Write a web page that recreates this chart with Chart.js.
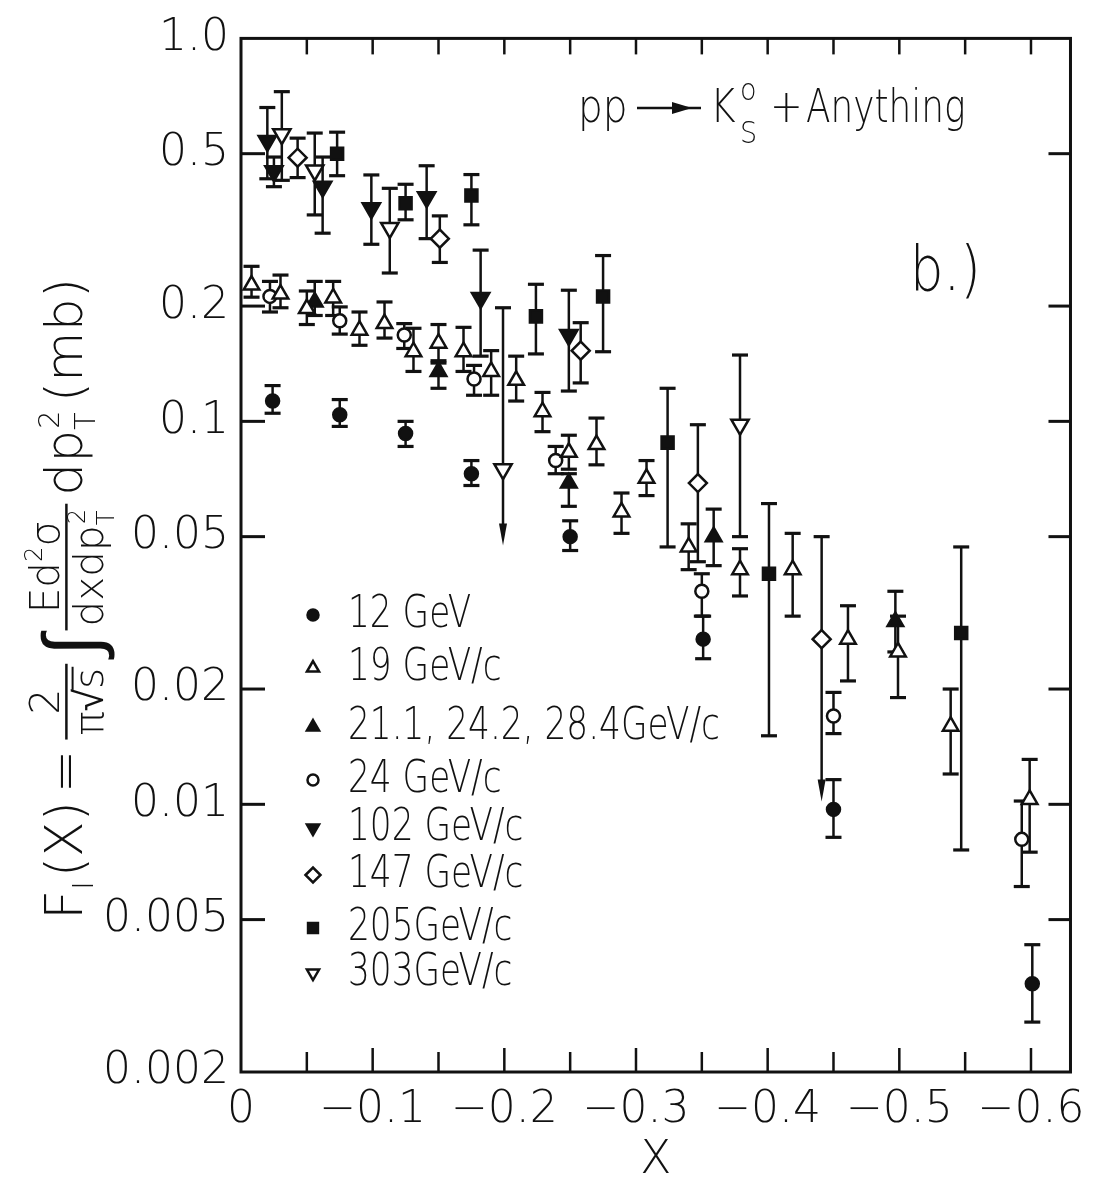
<!DOCTYPE html>
<html>
<head>
<meta charset="utf-8">
<title>pp → K0s + Anything</title>
<script src="https://cdn.jsdelivr.net/npm/chart.js@4.4.1/dist/chart.umd.min.js"></script>
<style>
html,body{margin:0;padding:0;background:#ffffff;overflow:hidden;}
#wrap{position:relative;width:1097px;height:1189px;}
canvas{display:block;}
</style>
</head>
<body>
<div id="wrap"><canvas id="chart" width="1097" height="1189"></canvas></div>
<script>
// ---------------- data ----------------
const seriesLabels = ['12 GeV', '19 GeV/c', '21.1, 24.2, 28.4GeV/c', '24 GeV/c', '102 GeV/c', '147 GeV/c', '205GeV/c', '303GeV/c'];

const yTickValues = [0.002, 0.005, 0.01, 0.02, 0.05, 0.1, 0.2, 0.5, 1.0];
const yTickLabels = ['0.002', '0.005', '0.01', '0.02', '0.05', '0.1', '0.2', '0.5', '1.0'];
const xTickValues = [0, -0.1, -0.2, -0.3, -0.4, -0.5, -0.6];
const xTickLabels = ['0', '\u22120.1', '\u22120.2', '\u22120.3', '\u22120.4', '\u22120.5', '\u22120.6'];
const xMinorTickValues = [-0.05, -0.15, -0.25, -0.35, -0.45, -0.55];

// 12 GeV
const x12  = [-0.024, -0.075, -0.125, -0.175, -0.250, -0.351, -0.450, -0.601];
const y12  = [0.113, 0.104, 0.093, 0.073, 0.050, 0.027, 0.0097, 0.0034];
const hi12 = [0.124, 0.114, 0.100, 0.079, 0.055, 0.031, 0.0116, 0.0043];
const lo12 = [0.105, 0.097, 0.086, 0.068, 0.046, 0.024, 0.0082, 0.0027];

// 19 GeV/c
const x19  = [-0.008, -0.030, -0.050, -0.070, -0.090, -0.109, -0.131, -0.150, -0.169, -0.190, -0.209, -0.229, -0.249, -0.270, -0.289, -0.308, -0.340, -0.379, -0.419, -0.461, -0.499, -0.539, -0.599];
const y19  = [0.227, 0.215, 0.197, 0.210, 0.173, 0.180, 0.152, 0.160, 0.152, 0.135, 0.128, 0.106, 0.083, 0.087, 0.058, 0.071, 0.047, 0.041, 0.041, 0.027, 0.025, 0.016, 0.0103];
const hi19 = [0.254, 0.241, 0.219, 0.232, 0.193, 0.205, 0.175, 0.179, 0.176, 0.153, 0.148, 0.119, 0.092, 0.102, 0.065, 0.079, 0.054, 0.0465, 0.051, 0.033, 0.031, 0.020, 0.0131];
const lo19 = [0.211, 0.198, 0.179, 0.189, 0.158, 0.165, 0.135, 0.142, 0.135, 0.117, 0.113, 0.094, 0.075, 0.077, 0.051, 0.064, 0.041, 0.035, 0.031, 0.021, 0.019, 0.012, 0.0075];

// 21.1, 24.2, 28.4 GeV/c
const x21  = [-0.056, -0.150, -0.249, -0.359, -0.497];
const y21  = [0.205, 0.135, 0.069, 0.050, 0.030];
const hi21 = [0.232, 0.144, 0.073, 0.059, 0.036];
const lo21 = [0.189, 0.122, 0.060, 0.042, 0.025];

// 24 GeV/c
const x24  = [-0.022, -0.075, -0.124, -0.177, -0.239, -0.350, -0.450, -0.593];
const y24  = [0.212, 0.183, 0.168, 0.129, 0.079, 0.036, 0.017, 0.0081];
const hi24 = [0.232, 0.199, 0.180, 0.140, 0.086, 0.040, 0.0196, 0.0102];
const lo24 = [0.193, 0.169, 0.155, 0.117, 0.073, 0.031, 0.0153, 0.0061];

// 102 GeV/c
const x102  = [-0.020, -0.025, -0.062, -0.099, -0.141, -0.182, -0.249];
const y102  = [0.54, 0.45, 0.41, 0.36, 0.385, 0.21, 0.168];
const hi102 = [0.66, 0.49, 0.49, 0.44, 0.465, 0.28, 0.22];
const lo102 = [0.43, 0.41, 0.31, 0.29, 0.30, 0.148, 0.12];

// 147 GeV/c
const x147  = [-0.043, -0.151, -0.258, -0.347, -0.441];
const y147  = [0.488, 0.300, 0.153, 0.069, 0.027];
const hi147 = [0.549, 0.344, 0.181, 0.098, 0.050];
const lo147 = [0.433, 0.260, 0.126, 0.043, 0.0103];
const lim147 = [0, 0, 0, 0, 1];   // 1 = upper limit (arrow)

// 205 GeV/c
const x205  = [-0.073, -0.125, -0.175, -0.224, -0.275, -0.324, -0.401, -0.547];
const y205  = [0.50, 0.371, 0.389, 0.188, 0.212, 0.088, 0.040, 0.028];
const hi205 = [0.569, 0.416, 0.441, 0.228, 0.271, 0.122, 0.061, 0.047];
const lo205 = [0.438, 0.336, 0.326, 0.150, 0.152, 0.047, 0.0151, 0.0076];

// 303 GeV/c
const x303  = [-0.031, -0.056, -0.113, -0.199, -0.379];
const y303  = [0.562, 0.452, 0.320, 0.075, 0.098];
const hi303 = [0.726, 0.566, 0.406, 0.198, 0.149];
const lo303 = [0.426, 0.346, 0.244, 0.048, 0.050];
const lim303 = [0, 0, 0, 1, 0];

// ---------------- styling ----------------
const FAM = '"DejaVu Sans", "Liberation Sans", sans-serif';
const WT = '200';
const INK = '#111111';

const series = [
  {x: x12,  y: y12,  hi: hi12,  lo: lo12,  lim: null},
  {x: x19,  y: y19,  hi: hi19,  lo: lo19,  lim: null},
  {x: x21,  y: y21,  hi: hi21,  lo: lo21,  lim: null},
  {x: x24,  y: y24,  hi: hi24,  lo: lo24,  lim: null},
  {x: x102, y: y102, hi: hi102, lo: lo102, lim: null},
  {x: x147, y: y147, hi: hi147, lo: lo147, lim: lim147},
  {x: x205, y: y205, hi: hi205, lo: lo205, lim: null},
  {x: x303, y: y303, hi: hi303, lo: lo303, lim: lim303}
];
const seriesStyles = [
  {pointStyle: 'circle',   rotation: 0,   radius: 6.5, filled: true,  legendRadius: 5.5},
  {pointStyle: 'triangle', rotation: 0,   radius: 9,   filled: false, legendRadius: 7},
  {pointStyle: 'triangle', rotation: 0,   radius: 9,   filled: true,  legendRadius: 7},
  {pointStyle: 'circle',   rotation: 0,   radius: 6.5, filled: false, legendRadius: 5.5},
  {pointStyle: 'triangle', rotation: 180, radius: 10,  filled: true,  legendRadius: 7},
  {pointStyle: 'rectRot',  rotation: 0,   radius: 9,   filled: false, legendRadius: 7.5},
  {pointStyle: 'rect',     rotation: 0,   radius: 8.5, filled: true,  legendRadius: 7},
  {pointStyle: 'triangle', rotation: 180, radius: 10,  filled: false, legendRadius: 7}
];

const datasets = series.map((s, k) => {
  const st = seriesStyles[k];
  return {
    label: seriesLabels[k],
    data: s.x.map((xv, i) => ({x: xv, y: s.y[i]})),
    showLine: false,
    pointStyle: st.pointStyle,
    rotation: st.rotation,
    pointRadius: st.radius,
    pointHoverRadius: st.radius,
    pointBorderWidth: 2.5,
    borderColor: INK,
    backgroundColor: st.filled ? INK : '#ffffff',
    pointBackgroundColor: st.filled ? INK : '#ffffff',
    pointBorderColor: INK,
    clip: false
  };
});

// ---------------- plugins ----------------
const errorBars = {
  id: 'errorBars',
  beforeDatasetsDraw(chart) {
    const ctx = chart.ctx, xs = chart.scales.x, ys = chart.scales.y;
    ctx.save();
    ctx.strokeStyle = INK; ctx.fillStyle = INK;
    series.forEach(s => {
      s.x.forEach((xv, i) => {
        const px = xs.getPixelForValue(xv);
        const pHi = ys.getPixelForValue(s.hi[i]);
        const pLo = ys.getPixelForValue(s.lo[i]);
        const isLim = s.lim && s.lim[i];
        ctx.lineWidth = 2.5;
        ctx.beginPath(); ctx.moveTo(px, pHi); ctx.lineTo(px, isLim ? pLo - 10 : pLo); ctx.stroke();
        ctx.lineWidth = 3.2;
        ctx.beginPath(); ctx.moveTo(px - 8, pHi); ctx.lineTo(px + 8, pHi); ctx.stroke();
        if (isLim) {
          ctx.beginPath();
          ctx.moveTo(px, pLo + 2);
          ctx.lineTo(px - 4, pLo - 20);
          ctx.lineTo(px + 4, pLo - 20);
          ctx.closePath(); ctx.fill();
        } else {
          ctx.beginPath(); ctx.moveTo(px - 8, pLo); ctx.lineTo(px + 8, pLo); ctx.stroke();
        }
      });
    });
    ctx.restore();
  }
};

function fillTextScaled(ctx, text, x, y, sx) {
  ctx.save();
  ctx.translate(x, y);
  ctx.scale(sx, 1);
  ctx.fillText(text, 0, 0);
  ctx.restore();
}

function drawMarker(ctx, st, r, x, y) {
  ctx.save();
  ctx.fillStyle = st.filled ? INK : '#ffffff';
  ctx.strokeStyle = INK;
  ctx.lineWidth = 2.5;
  const opts = {pointStyle: st.pointStyle, rotation: st.rotation, radius: r, borderWidth: 2.5};
  if (Chart.helpers && Chart.helpers.drawPoint) {
    Chart.helpers.drawPoint(ctx, opts, x, y);
  }
  ctx.restore();
}

const frameAndText = {
  id: 'frameAndText',
  afterDraw(chart) {
    const ctx = chart.ctx, xs = chart.scales.x, ys = chart.scales.y;
    const a = chart.chartArea;
    ctx.save();
    ctx.strokeStyle = INK; ctx.fillStyle = INK;
    // frame
    ctx.lineWidth = 3;
    ctx.strokeRect(a.left, a.top, a.right - a.left, a.bottom - a.top);
    // y ticks (inward) on left and right
    ctx.lineWidth = 3;
    yTickValues.forEach(v => {
      const py = ys.getPixelForValue(v);
      if (py <= a.top + 1 || py >= a.bottom - 1) return;
      ctx.beginPath(); ctx.moveTo(a.left, py); ctx.lineTo(a.left + 24, py); ctx.stroke();
      ctx.beginPath(); ctx.moveTo(a.right, py); ctx.lineTo(a.right - 22, py); ctx.stroke();
    });
    // x ticks (inward) on bottom and top
    ctx.lineWidth = 2.5;
    const allX = xTickValues.concat(xMinorTickValues);
    allX.forEach(v => {
      const px = xs.getPixelForValue(v);
      if (px <= a.left + 1 || px >= a.right - 1) return;
      const major = xTickValues.indexOf(v) >= 0;
      ctx.beginPath(); ctx.moveTo(px, a.bottom); ctx.lineTo(px, a.bottom - (major ? 24 : 20)); ctx.stroke();
      ctx.beginPath(); ctx.moveTo(px, a.top); ctx.lineTo(px, a.top + 16); ctx.stroke();
    });

    // reaction label
    ctx.textBaseline = 'alphabetic';
    ctx.textAlign = 'left';
    ctx.font = `${WT} 46px ${FAM}`;
    fillTextScaled(ctx, 'pp', 578, 122, 0.85);
    ctx.lineWidth = 2.5;
    ctx.beginPath(); ctx.moveTo(637, 108); ctx.lineTo(701, 108); ctx.stroke();
    ctx.beginPath(); ctx.moveTo(692, 108); ctx.lineTo(672, 102); ctx.lineTo(672, 114); ctx.closePath(); ctx.fill();
    fillTextScaled(ctx, 'K', 710, 122, 0.85);
    ctx.font = `${WT} 30px ${FAM}`;
    fillTextScaled(ctx, 'o', 740, 100, 0.9);
    fillTextScaled(ctx, 'S', 740, 143, 0.9);
    ctx.font = `${WT} 46px ${FAM}`;
    fillTextScaled(ctx, '+', 770, 122, 0.85);
    fillTextScaled(ctx, 'Anything', 806, 122, 0.78);
    ctx.font = `${WT} 62px ${FAM}`;
    fillTextScaled(ctx, 'b.)', 910, 290, 0.85);

    // legend
    const rows = [615, 668, 727, 780, 828, 875, 928, 973];
    seriesLabels.forEach((lab, k) => {
      const st = seriesStyles[k];
      drawMarker(ctx, st, st.legendRadius, 313, rows[k]);
      ctx.fillStyle = INK;
      ctx.font = `${WT} 44px ${FAM}`;
      ctx.textBaseline = 'middle';
      fillTextScaled(ctx, lab, 348, rows[k] + 1, 0.78);
    });

    // y axis title (rotated)
    drawYTitle(ctx);
    ctx.restore();
  }
};

function drawYTitle(ctx) {
  const S = 52;
  const font = s => `${WT} ${s}px ${FAM}`;
  const meas = (t, s) => { ctx.font = font(s); return ctx.measureText(t).width; };
  const ops = [];
  let d = 0;
  const put = (t, s, dy) => { ops.push({k: 't', t, s, x: d, y: dy}); d += meas(t, s); };
  const at = (t, s, x, dy) => ops.push({k: 't', t, s, x, y: dy});
  const line = (x1, y1, x2, y2, w) => ops.push({k: 'l', x1, y1, x2, y2, w});
  const ax = -S * 0.3;        // math axis
  const fs = S * 0.78;        // fraction font
  const ss = S * 0.55;        // script font

  put('F', S, 0);
  put('I', ss, S * 0.22);
  d += 4;
  put('(X)', S, 0);
  d += 8;
  put('=', S, 0);
  d += 10;
  // fraction 2 / (pi sqrt s)
  {
    const wn = meas('2', fs), wd = meas('\u03c0\u221as', fs);
    const bw = Math.max(wn, wd) + 8;
    at('2', fs, d + (bw - wn) / 2, ax - 7);
    const db = ax + 7 + fs * 0.72;
    at('\u03c0\u221as', fs, d + (bw - wd) / 2, db);
    const wsx = meas('s', fs);
    const xe = d + (bw - wd) / 2 + wd;
    line(xe - wsx - 1, db - fs * 0.74, xe + 1, db - fs * 0.74, 2);
    line(d, ax, d + bw, ax, 2.5);
    d += bw + 8;
  }
  // integral
  put('\u222b', S * 1.5, S * 0.3);
  d += 4;
  // fraction E d2 sigma / dx dpT2
  {
    const nW = meas('Ed', fs) + meas('2', fs * 0.6) + meas('\u03c3', fs);
    const dW = meas('dxdp', fs) + meas('2', fs * 0.6) + 2;
    const bw = Math.max(nW, dW) + 8;
    let x0 = d + (bw - nW) / 2;
    const nb = ax - 7;
    at('Ed', fs, x0, nb); x0 += meas('Ed', fs);
    at('2', fs * 0.6, x0, nb - fs * 0.42); x0 += meas('2', fs * 0.6);
    at('\u03c3', fs, x0, nb);
    let x1 = d + (bw - dW) / 2;
    const db = ax + 7 + fs * 0.74;
    at('dxdp', fs, x1, db); x1 += meas('dxdp', fs);
    at('T', fs * 0.6, x1, db + fs * 0.25);
    at('2', fs * 0.6, x1 + 1, db - fs * 0.45);
    line(d, ax, d + bw, ax, 2.5);
    d += bw + 8;
  }
  put('dp', S, 0);
  at('T', ss, d, S * 0.25);
  at('2', ss, d + 1, -S * 0.45);
  d += meas('T', ss) + 10;
  put('(mb)', S, 0);

  const L = d;
  ctx.save();
  ctx.translate(82, 278 + L);
  ctx.rotate(-Math.PI / 2);
  ctx.fillStyle = INK; ctx.strokeStyle = INK;
  ctx.textBaseline = 'alphabetic'; ctx.textAlign = 'left';
  ops.forEach(o => {
    if (o.k === 't') { ctx.font = font(o.s); ctx.fillText(o.t, o.x, o.y); }
    else { ctx.lineWidth = o.w; ctx.beginPath(); ctx.moveTo(o.x1, o.y1); ctx.lineTo(o.x2, o.y2); ctx.stroke(); }
  });
  ctx.restore();
}

// ---------------- chart ----------------
new Chart(document.getElementById('chart'), {
  type: 'scatter',
  data: {datasets},
  options: {
    responsive: false,
    animation: false,
    devicePixelRatio: 1,
    layout: {padding: {top: 26, right: 5, left: 0, bottom: 0}},
    plugins: {legend: {display: false}, tooltip: {enabled: false}},
    scales: {
      x: {
        type: 'linear',
        min: -0.63, max: 0, reverse: true,
        grid: {display: false, drawTicks: false},
        border: {display: false},
        afterBuildTicks: s => { s.ticks = xTickValues.map(v => ({value: v})); },
        afterFit: s => { s.height = 117; },
        ticks: {
          autoSkip: false, maxRotation: 0, padding: 12, color: INK,
          font: {family: FAM, size: 44, weight: WT},
          callback: (v, i) => xTickLabels[i]
        },
        title: {display: true, text: 'X', color: INK, font: {family: FAM, size: 46, weight: WT}, padding: {top: 0, bottom: 0}}
      },
      y: {
        type: 'logarithmic',
        min: 0.002, max: 1.0,
        grid: {display: false, drawTicks: false},
        border: {display: false},
        afterBuildTicks: s => { s.ticks = yTickValues.map(v => ({value: v})); },
        afterFit: s => { s.width = 241; },
        ticks: {
          autoSkip: false, padding: 12, color: INK,
          font: {family: FAM, size: 44, weight: WT},
          callback: (v, i) => yTickLabels[i]
        }
      }
    }
  },
  plugins: [errorBars, frameAndText]
});
</script>
</body>
</html>
